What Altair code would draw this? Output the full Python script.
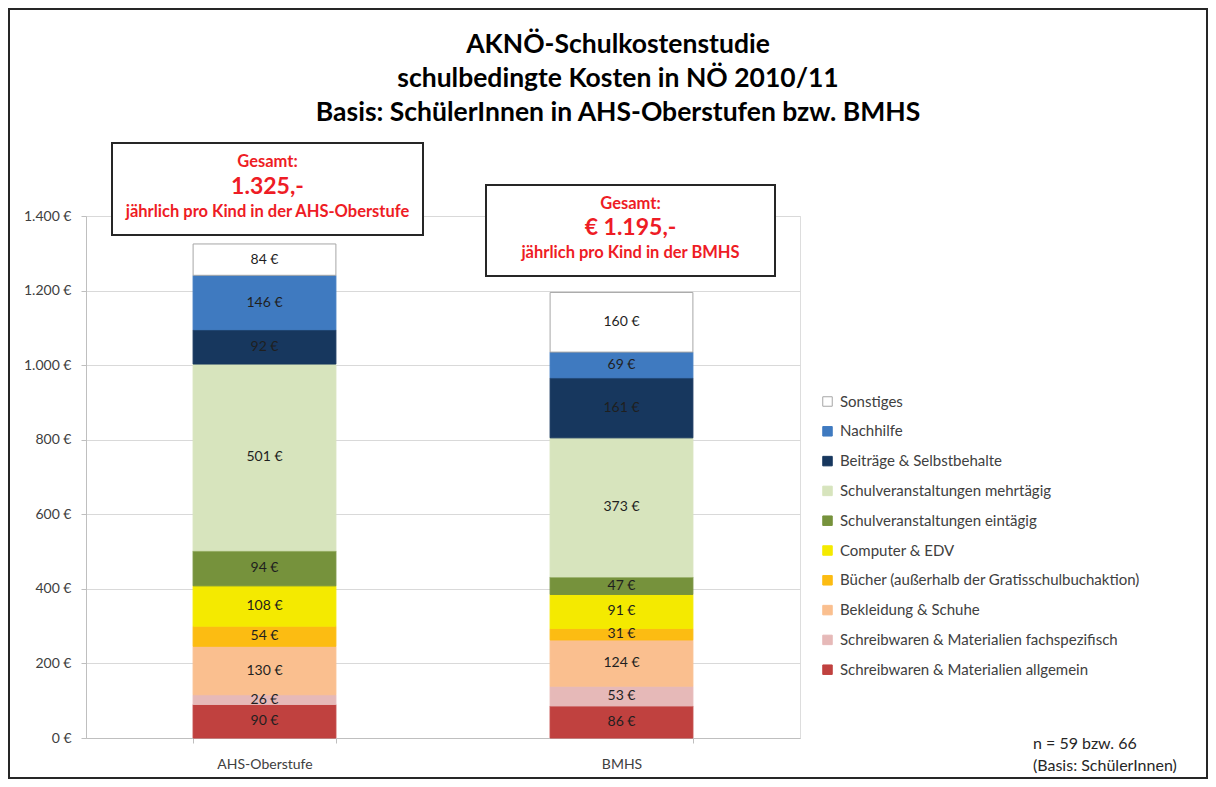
import altair as alt
import pandas as pd

schools = ["AHS-Oberstufe", "BMHS"]
components = [
    "Schreibwaren & Materialien allgemein",
    "Schreibwaren & Materialien fachspezifisch",
    "Bekleidung & Schuhe",
    "Bücher (außerhalb der Gratisschulbuchaktion)",
    "Computer & EDV",
    "Schulveranstaltungen eintägig",
    "Schulveranstaltungen mehrtägig",
    "Beiträge & Selbstbehalte",
    "Nachhilfe",
    "Sonstiges",
]
ahs_values = [90, 26, 130, 54, 108, 94, 501, 92, 146, 84]
bmhs_values = [86, 53, 124, 31, 91, 47, 373, 161, 69, 160]
fill_colors = ["#c0413f", "#e6b9b8", "#fabf8f", "#fcbc12", "#f4ea00",
               "#76923c", "#d7e4bd", "#17375e", "#3f7ac0", "#ffffff"]
stroke_colors = fill_colors[:-1] + ["#a6a6a6"]
y_ticks = [0, 200, 400, 600, 800, 1000, 1200, 1400]

title_lines = ["AKNÖ-Schulkostenstudie",
               "schulbedingte Kosten in NÖ 2010/11",
               "Basis: SchülerInnen in AHS-Oberstufen bzw. BMHS"]
ahs_box_lines = ["Gesamt:", "1.325,-", "jährlich pro Kind in der AHS-Oberstufe"]
bmhs_box_lines = ["Gesamt:", "€ 1.195,-", "jährlich pro Kind in der BMHS"]
note_lines = ["n = 59 bzw. 66", "(Basis: SchülerInnen)"]

FONT = "Lato"
RED = "#ee1c25"
GREY_TXT = "#404040"

rows = []
for i, c in enumerate(components):
    rows.append({"school": schools[0], "component": c, "value": ahs_values[i], "ord": i})
    rows.append({"school": schools[1], "component": c, "value": bmhs_values[i], "ord": i})
df = pd.DataFrame(rows)

legend_order = components[::-1]
legend_fill = fill_colors[::-1]
legend_stroke = stroke_colors[::-1]

legend_def = alt.Legend(
    title=None, orient="none", legendX=734, legendY=178, padding=0,
    symbolType="square", symbolSize=90, symbolStrokeWidth=1,
    labelFont=FONT, labelFontSize=15, labelColor=GREY_TXT, labelOffset=5,
    rowPadding=13.8, labelLimit=450,
)

base = alt.Chart(df).transform_stack(
    stack="value", groupby=["school"],
    sort=[alt.SortField("ord", order="ascending")], as_=["v0", "v1"]
).transform_calculate(
    mid="(datum.v0 + datum.v1) / 2", lab="datum.value + ' €'"
)

x_enc = alt.X(
    "school:N", sort=schools,
    scale=alt.Scale(paddingInner=0.6, paddingOuter=0.3),
    axis=alt.Axis(title=None, labelAngle=0, tickBand="extent", tickSize=5,
                  tickColor="#bfbfbf", domainColor="#bfbfbf", labelPadding=14,
                  labelFont=FONT, labelFontSize=14, labelColor=GREY_TXT, grid=False),
)
y_scale = alt.Scale(domain=[0, 1400], nice=False)

bars = base.mark_bar(strokeWidth=1).encode(
    x=x_enc,
    y=alt.Y("v0:Q", scale=y_scale,
            axis=alt.Axis(title=None, values=y_ticks, tickSize=5, tickColor="#bfbfbf",
                          domainColor="#bfbfbf", gridColor="#d9d9d9", labelPadding=10,
                          labelFont=FONT, labelFontSize=14, labelColor=GREY_TXT,
                          labelExpr="replace(format(datum.value, ',d'), ',', '.') + ' €'")),
    y2="v1:Q",
    color=alt.Color("component:N", scale=alt.Scale(domain=legend_order, range=legend_fill),
                    legend=legend_def),
    stroke=alt.Stroke("component:N", scale=alt.Scale(domain=legend_order, range=legend_stroke),
                      legend=legend_def),
)

labels = base.mark_text(font=FONT, fontSize=14, color="#1f1f1f").encode(
    x=alt.X("school:N", sort=schools),
    y=alt.Y("mid:Q", scale=y_scale),
    text="lab:N",
)

one = pd.DataFrame({"k": [0]})

layers = [bars, labels]

# outer frame
layers.append(alt.Chart(one).mark_rect(fill=None, stroke="#262626", strokeWidth=2).encode(
    x=alt.value(-77), x2=alt.value(1121), y=alt.value(-207), y2=alt.value(562)))

# title
for ty, line in zip([-171, -137, -103], title_lines):
    layers.append(alt.Chart(one).mark_text(font=FONT, fontSize=26.5, fontWeight="bold",
                                           color="#000000", baseline="middle").encode(
        x=alt.value(532), y=alt.value(ty), text=alt.value(line)))

# annotation boxes
boxes = [
    (26, 337, -73, 19, 181.5, [-54, -29, -4], ahs_box_lines),
    (400, 689, -31, 60, 544.5, [-12, 12, 37], bmhs_box_lines),
]
for x1, x2, y1, y2, cx, ys, lines in boxes:
    layers.append(alt.Chart(one).mark_rect(fill="white", stroke="#262626", strokeWidth=2).encode(
        x=alt.value(x1), x2=alt.value(x2), y=alt.value(y1), y2=alt.value(y2)))
    for ty, line, fs in zip(ys, lines, [16.5, 23, 16.5]):
        layers.append(alt.Chart(one).mark_text(font=FONT, fontSize=fs, fontWeight="bold",
                                               color=RED, baseline="middle").encode(
            x=alt.value(cx), y=alt.value(ty), text=alt.value(line)))

# note
for ty, line in zip([528, 550], note_lines):
    layers.append(alt.Chart(one).mark_text(font=FONT, fontSize=16, color="#262626",
                                           align="left", baseline="middle").encode(
        x=alt.value(947), y=alt.value(ty), text=alt.value(line)))

chart = alt.layer(*layers).resolve_scale(x="shared", y="shared").properties(
    width=714, height=522,
    autosize=alt.AutoSizeParams(type="none"),
    padding={"left": 78, "top": 208, "right": 408, "bottom": 41},
).configure_view(stroke=None).configure(background="white")

chart.save("out.html", embed_options={"renderer": "svg", "actions": False})
